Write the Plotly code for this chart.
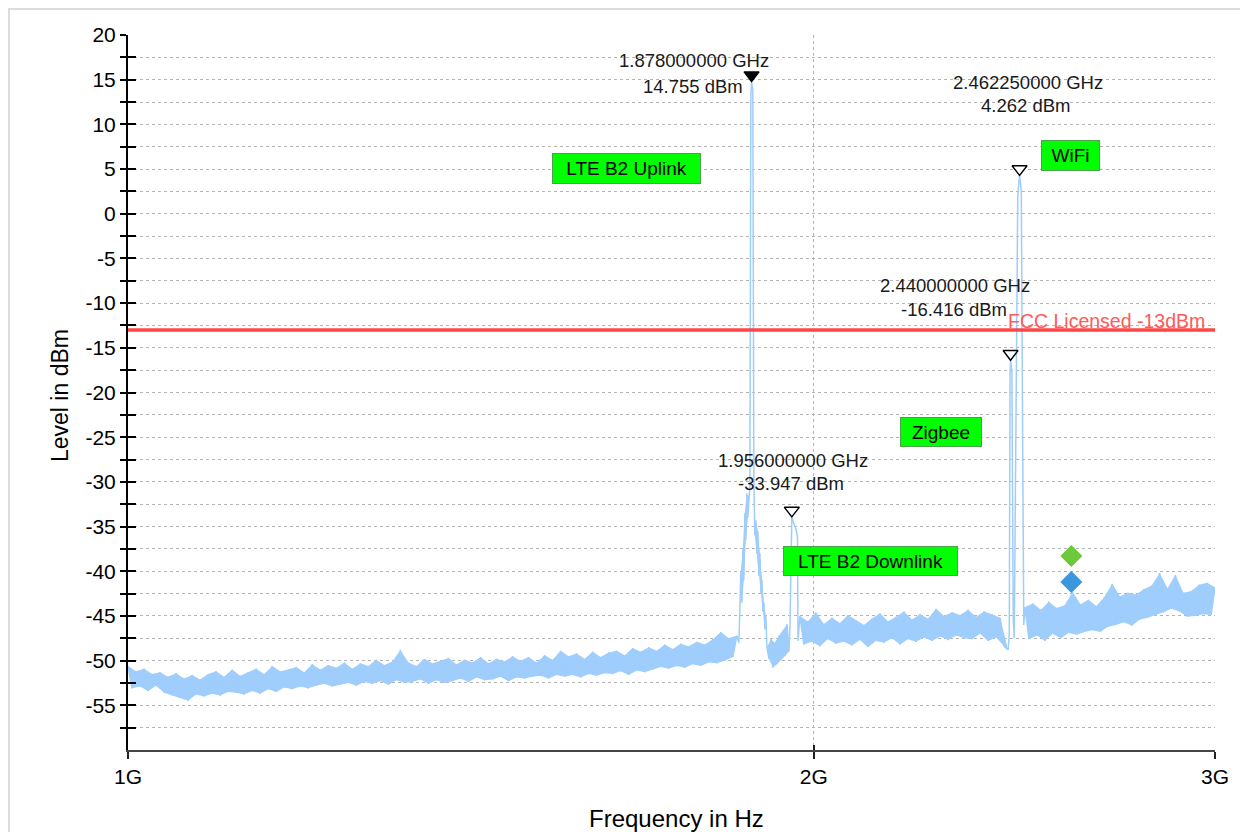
import numpy as np
import plotly.graph_objects as go

# ---------------- data (frequency in MHz, level in dBm) ----------------
seg_a_start_mhz, seg_a_stop_mhz = 1000.0, 1850.3
seg_a_levels = [
    -50.6, -53.1, -51.2, -52.9, -50.9, -53.4, -51.5, -52.8, -51.3, -53.6,
    -51.8, -53.9, -51.4, -54.2, -52.0, -54.5, -51.6, -53.8, -52.1, -54.0,
    -51.5, -53.7, -51.2, -53.9, -51.8, -53.5, -51.0, -53.6, -51.7, -53.8,
    -51.3, -53.4, -50.9, -53.7, -51.5, -53.2, -50.6, -53.5, -51.2, -53.0,
    -51.0, -53.2, -50.7, -52.9, -51.3, -53.1, -50.4, -52.8, -51.0, -52.6,
    -50.5, -52.9, -50.8, -52.7, -50.2, -52.5, -50.9, -52.8, -50.3, -52.4,
    -50.6, -52.6, -49.9, -52.3, -50.5, -52.7, -50.1, -52.2, -48.8, -52.5,
    -50.2, -52.4, -50.6, -52.1, -49.8, -52.6, -50.3, -52.2, -50.0, -52.5,
    -49.7, -52.3, -50.4, -52.0, -49.9, -52.4, -50.2, -51.9, -49.6, -52.2,
    -50.3, -52.1, -49.8, -51.8, -50.1, -52.3, -49.5, -51.9, -50.0, -52.0,
    -49.6, -51.8, -50.2, -51.7, -49.4, -52.0, -49.9, -51.6, -48.9, -51.8,
    -49.5, -51.6, -49.2, -51.9, -49.8, -51.5, -49.0, -51.7, -49.6, -51.4,
    -49.1, -51.5, -48.9, -51.2, -49.4, -51.6, -48.6, -51.1, -49.0, -51.3,
    -48.5, -51.0, -48.9, -50.7, -48.2, -50.9, -48.7, -50.6, -48.1, -50.8,
    -48.4, -50.4, -47.9, -50.6, -48.2, -50.2, -47.6, -50.3, -46.8, -50.0,
    -47.5, -49.6, -47.2,
]

peak1_mhz = [
    1854.0, 1855.9, 1857.8, 1859.7, 1861.6, 1863.4, 1865.3, 1867.2, 1869.1,
    1871.0, 1872.9, 1874.8, 1876.7, 1878.0, 1880.4, 1882.4, 1884.3, 1886.2,
    1888.1, 1890.0, 1892.0, 1893.9, 1895.8, 1897.7, 1899.6, 1901.6, 1903.5,
    1905.4, 1907.4, 1911.3, 1915.2, 1919.0, 1922.9, 1926.8, 1930.7, 1934.7,
    1938.6, 1942.5, 1946.5, 1950.4, 1952.4, 1954.4, 1956.0, 1960.3, 1964.3,
    1967.3, 1968.3,
]
peak1_dbm = [
    -48.0, -44.5, -40.0, -43.5, -37.5, -41.0, -33.5, -36.5, -31.3,
    -34.0, -31.6, -30.5, 13.2, 14.755, 13.8, -30.0, -36.0, -34.3,
    -38.0, -35.5, -40.5, -38.0, -42.5, -41.0, -44.5, -43.5, -46.5,
    -45.0, -48.5, -49.8, -47.6, -50.8, -48.0, -50.4, -47.2, -49.9,
    -46.6, -49.5, -45.9, -49.0, -46.0, -35.5, -33.947, -34.7, -35.3,
    -36.2, -47.8,
]

seg_b_start_mhz, seg_b_stop_mhz = 1972.0, 2434.0
seg_b_levels = [
    -45.0, -48.2, -45.6, -47.9, -44.6, -48.4, -45.9, -47.6, -45.2, -48.1,
    -45.8, -47.9, -44.9, -48.3, -45.5, -47.7, -46.0, -48.5, -45.3, -47.8,
    -44.7, -48.0, -45.6, -47.5, -45.1, -48.2, -44.5, -47.6, -45.4, -47.9,
    -44.8, -47.4, -45.3, -47.8, -44.2, -47.3, -45.0, -47.7, -44.6, -47.2,
    -44.9, -47.5, -44.3, -47.6, -45.1, -47.0, -44.5, -47.8, -44.8, -47.4,
    -45.2, -48.4, -48.8,
]

peak2_mhz = [2436.8, 2438.7, 2440.0, 2443.2, 2446.7, 2449.1,
             2452.9, 2457.8, 2462.25, 2466.6, 2470.3, 2472.8]
peak2_dbm = [-47.0, -18.0, -16.416, -17.6, -45.5, -47.5,
             -21.0, 2.0, 4.262, 2.6, -28.0, -46.0]

seg_c_start_mhz, seg_c_stop_mhz = 2476.0, 3000.0
seg_c_levels = [
    -44.0, -47.6, -43.6, -47.2, -44.3, -47.8, -43.4, -47.0, -44.1, -47.5,
    -43.8, -46.9, -42.3, -47.1, -43.7, -46.8, -43.2, -46.6, -43.9, -46.8,
    -42.9, -46.2, -41.4, -46.0, -42.8, -45.7, -42.4, -46.1, -42.6, -45.4,
    -42.0, -45.2, -41.6, -44.9, -40.2, -44.6, -41.9, -44.2, -40.4, -44.5,
    -42.4, -45.1, -42.2, -45.0, -41.5, -44.8, -41.3, -44.9, -41.8,
]

marker_freq_ghz = [1.878, 1.956, 2.44, 2.46225]
marker_level_dbm = [14.755, -33.947, -16.416, 4.262]
marker_filled = [True, False, False, False]

diamond_freq_ghz = [2.5946, 2.5946]
diamond_level_dbm = [-38.3, -41.2]
diamond_colors = ["#6cc93b", "#3d97dc"]

limit_dbm = -13
limit_label = "FCC Licensed -13dBm"
band_labels = ["LTE B2 Uplink", "WiFi", "Zigbee", "LTE B2 Downlink"]

x_tick_vals = [1e9, 2e9, 3e9]
x_tick_text = ["1G", "2G", "3G"]
y_tick_vals = [-55, -50, -45, -40, -35, -30, -25, -20, -15, -10, -5, 0, 5, 10, 15, 20]
y_range = [-60, 20]

# ---------------- build trace ----------------
seg_a_f = np.geomspace(seg_a_start_mhz, seg_a_stop_mhz, len(seg_a_levels))
seg_b_f = np.geomspace(seg_b_start_mhz, seg_b_stop_mhz, len(seg_b_levels))
seg_c_f = np.geomspace(seg_c_start_mhz, seg_c_stop_mhz, len(seg_c_levels))
p1f, p1v = np.array(peak1_mhz), np.array(peak1_dbm)

# regions drawn as a dense band (alternating high/low samples)
band_regions = [
    (seg_a_f, np.array(seg_a_levels)),
    (p1f[2:12], p1v[2:12]),
    (p1f[16:28], p1v[16:28]),
    (p1f[28:40], p1v[28:40]),
    (seg_b_f, np.array(seg_b_levels)),
    (seg_c_f, np.array(seg_c_levels)),
]

freq_mhz = np.concatenate([seg_a_f, p1f, seg_b_f, peak2_mhz, seg_c_f])
level = np.concatenate([seg_a_levels, peak1_dbm, seg_b_levels, peak2_dbm, seg_c_levels])
freq_hz = freq_mhz * 1e6

FONT = "Liberation Sans, Arial, sans-serif"
TRACE = "#9fcdfc"
OFF = 8                      # page offset of the figure (body margin)
W, H = 1240, 824
L, T = 120, 27
PW, PH = 1087, 715
R, B = W - L - PW, H - T - PH


def pxx(px):                 # page px -> paper x
    return (px - OFF - L) / PW


def pxy(py):                 # page px -> paper y
    return (OFF + T + PH - py) / PH


fig = go.Figure()

for f, v in band_regions:
    fig.add_trace(go.Scatter(x=f[0::2] * 1e6, y=v[0::2], mode="lines",
                             line=dict(width=0, color=TRACE),
                             hoverinfo="skip", showlegend=False))
    fig.add_trace(go.Scatter(x=f[1::2] * 1e6, y=v[1::2], mode="lines",
                             line=dict(width=0, color=TRACE),
                             fill="tonexty", fillcolor=TRACE,
                             hoverinfo="skip", showlegend=False))

fig.add_trace(go.Scatter(
    x=freq_hz, y=level, mode="lines",
    line=dict(color=TRACE, width=1.5),
    hoverinfo="skip", showlegend=False,
))

# peak markers (triangles just above the peak)
mk_x = np.array(marker_freq_ghz) * 1e9
mk_y = np.array(marker_level_dbm) + 0.75
fig.add_trace(go.Scatter(
    x=mk_x, y=mk_y, mode="markers",
    marker=dict(symbol="triangle-down", size=13,
                color=["#000000" if f else "#ffffff" for f in marker_filled],
                line=dict(color="#000000", width=1.4)),
    hoverinfo="skip", showlegend=False,
))

fig.add_trace(go.Scatter(
    x=np.array(diamond_freq_ghz) * 1e9, y=diamond_level_dbm, mode="markers",
    marker=dict(symbol="diamond", size=17, color=diamond_colors, line=dict(width=0)),
    hoverinfo="skip", showlegend=False,
))

# invisible trace for the overlay axes (inside half of the crossing ticks)
fig.add_trace(go.Scatter(
    x=[2e9], y=[0], xaxis="x2", yaxis="y2", mode="markers",
    marker=dict(opacity=0), hoverinfo="skip", showlegend=False,
))

# marker readouts: (xshift, yshift) for freq line and level line
shifts = [
    ((-57.7, 20.9), (-58.2, -4.6)),
    ((0.8, 57.1), (-0.9, 33.6)),
    ((-56.0, 75.0), (-56.3, 51.0)),
    ((8.0, 93.2), (5.7, 70.2)),
]
annotations = []
for f, lv, (s1, s2) in zip(marker_freq_ghz, marker_level_dbm, shifts):
    xl = np.log10(f * 1e9)
    annotations.append(dict(
        x=xl, y=lv, xref="x", yref="y", text=f"{f:.9f} GHz", showarrow=False,
        xanchor="center", yanchor="middle", xshift=s1[0], yshift=s1[1],
        font=dict(family=FONT, size=18.5, color="#1a1a1a")))
    annotations.append(dict(
        x=xl, y=lv, xref="x", yref="y", text=f"{lv:.3f} dBm", showarrow=False,
        xanchor="center", yanchor="middle", xshift=s2[0], yshift=s2[1],
        font=dict(family=FONT, size=18.5, color="#1a1a1a")))

# green band labels: centre px, size px (page coordinates)
boxes = [
    (626, 168.5, 149, 31),
    (1070, 155.5, 59, 31),
    (941, 432, 82, 30),
    (870.5, 561, 175, 30),
]
for text, (cx, cy, bw, bh) in zip(band_labels, boxes):
    annotations.append(dict(
        x=pxx(cx), y=pxy(cy), xref="paper", yref="paper", text=text,
        showarrow=False, xanchor="center", yanchor="middle",
        width=bw - 4, height=bh - 4, borderpad=1,
        bgcolor="#00ff00", bordercolor="#4aa34a", borderwidth=1,
        font=dict(family=FONT, size=19, color="#000000")))

annotations.append(dict(
    x=pxx(1207), y=limit_dbm, xref="paper", yref="y", text=limit_label,
    showarrow=False, xanchor="right", yanchor="middle", yshift=9,
    font=dict(family=FONT, size=19.5, color="#ff5a5a")))

# axis titles
annotations.append(dict(
    x=pxx(676), y=pxy(818), xref="paper", yref="paper", text="Frequency in Hz",
    showarrow=False, xanchor="center", yanchor="middle",
    font=dict(family=FONT, size=24, color="#000000")))
annotations.append(dict(
    x=pxx(60), y=pxy(396), xref="paper", yref="paper", text="Level in dBm",
    showarrow=False, xanchor="center", yanchor="middle", textangle=-90,
    font=dict(family=FONT, size=23, color="#000000")))

shapes = [
    dict(type="line", xref="paper", yref="y", x0=0, x1=1, y0=limit_dbm, y1=limit_dbm,
         line=dict(color="#ff4646", width=3.5), layer="above"),
    # outer frame of the picture
    dict(type="line", xref="paper", yref="paper", x0=pxx(8), x1=pxx(OFF + W), y0=pxy(9), y1=pxy(9),
         line=dict(color="#dcdcdc", width=2)),
    dict(type="line", xref="paper", yref="paper", x0=pxx(9), x1=pxx(9), y0=pxy(8), y1=pxy(OFF + H),
         line=dict(color="#dcdcdc", width=2)),
]

grid_dash = "3px,3px"
grid_color = "#b4b4b4"
minor_vals = [v - 2.5 for v in y_tick_vals]
xr = [np.log10(1e9), np.log10(3e9)]

fig.update_layout(
    width=W, height=H,
    margin=dict(l=L, r=R, t=T, b=B, autoexpand=False),
    paper_bgcolor="#ffffff", plot_bgcolor="#ffffff",
    font=dict(family=FONT, size=21, color="#000000"),
    showlegend=False,
    annotations=annotations,
    shapes=shapes,
    xaxis=dict(
        type="log", range=xr, tickmode="array", tickvals=x_tick_vals, ticktext=x_tick_text,
        showgrid=True, gridcolor=grid_color, griddash=grid_dash, gridwidth=1,
        showline=True, linecolor="#454545", linewidth=2,
        ticks="outside", ticklen=7, tickwidth=1.5, tickcolor="#222222",
        tickfont=dict(family=FONT, size=21, color="#000000"),
        zeroline=False, fixedrange=True,
    ),
    yaxis=dict(
        range=y_range, tickmode="array", tickvals=y_tick_vals,
        ticktext=[str(v) for v in y_tick_vals],
        showgrid=True, gridcolor=grid_color, griddash=grid_dash, gridwidth=1,
        showline=True, linecolor="#000000", linewidth=2,
        ticks="outside", ticklen=6, tickwidth=2, tickcolor="#000000",
        tickfont=dict(family=FONT, size=21, color="#000000"),
        minor=dict(tickmode="array", tickvals=minor_vals, showgrid=True,
                   gridcolor=grid_color, griddash=grid_dash, gridwidth=1,
                   ticks="outside", ticklen=6, tickwidth=2, tickcolor="#000000"),
        zeroline=False, fixedrange=True,
    ),
    xaxis2=dict(
        type="log", range=xr, overlaying="x", anchor="y", side="bottom",
        tickmode="array", tickvals=x_tick_vals, showticklabels=False,
        showgrid=False, showline=False, zeroline=False,
        ticks="inside", ticklen=5, tickwidth=1.5, tickcolor="#222222",
    ),
    yaxis2=dict(
        range=y_range, overlaying="y", anchor="x", side="left",
        tickmode="array", tickvals=y_tick_vals, showticklabels=False,
        showgrid=False, showline=False, zeroline=False,
        ticks="inside", ticklen=8, tickwidth=2, tickcolor="#000000",
        minor=dict(tickmode="array", tickvals=minor_vals, ticks="inside",
                   ticklen=8, tickwidth=2, tickcolor="#000000", showgrid=False),
    ),
)

fig.write_html("out.html")
